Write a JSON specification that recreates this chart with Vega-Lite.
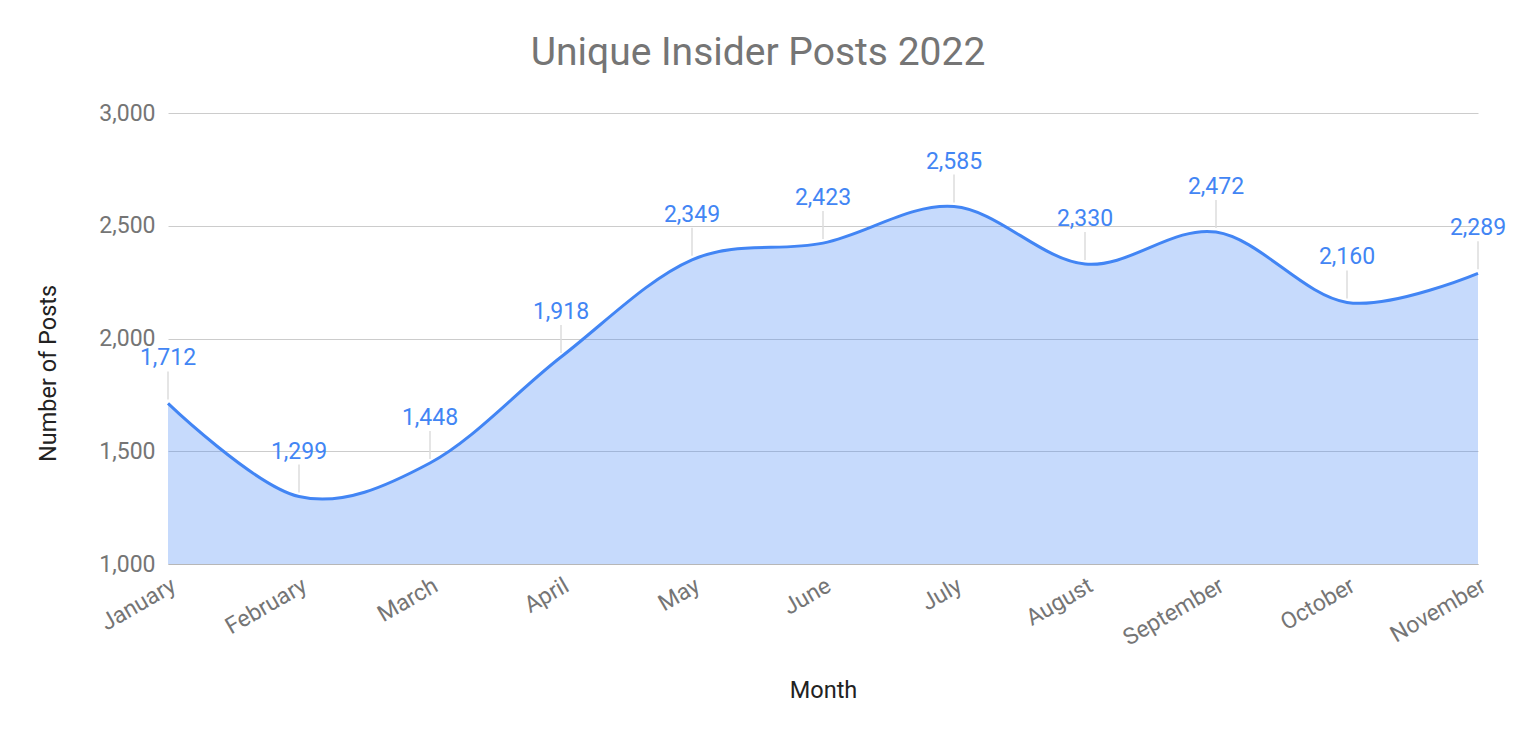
{
  "$schema": "https://vega.github.io/schema/vega-lite/v6.json",
  "autosize": "none",
  "width": 1310,
  "height": 451,
  "padding": {"left": 168, "top": 113, "right": 38, "bottom": 178},
  "background": "white",
  "config": {"font": "Roboto", "view": {"stroke": null}},
  "title": {"text": "Unique Insider Posts 2022", "fontSize": 39, "fontWeight": "normal", "color": "#757575", "font": "Roboto", "dx": -65, "offset": -2, "anchor": "middle", "baseline": "alphabetic"},
  "data": {"values": [
    {"Month": "January", "Posts": 1712},
    {"Month": "February", "Posts": 1299},
    {"Month": "March", "Posts": 1448},
    {"Month": "April", "Posts": 1918},
    {"Month": "May", "Posts": 2349},
    {"Month": "June", "Posts": 2423},
    {"Month": "July", "Posts": 2585},
    {"Month": "August", "Posts": 2330},
    {"Month": "September", "Posts": 2472},
    {"Month": "October", "Posts": 2160},
    {"Month": "November", "Posts": 2289}
  ]},
  "encoding": {
    "x": {"field": "Month", "type": "ordinal", "sort": null, "scale": {"type": "point", "padding": 0},
      "axis": {"title": "Month", "titleFontSize": 23.5, "titleFontWeight": "normal", "titleColor": "#222222", "titleFont": "Roboto", "titleY": 126, "titleBaseline": "middle",
        "labelAngle": -30, "labelAlign": "right", "labelBaseline": "top", "labelFontSize": 23, "labelColor": "#757575", "labelPadding": 10,
        "ticks": false, "domain": true, "domainColor": "#b7b7b7", "domainWidth": 1, "grid": false}},
    "y": {"field": "Posts", "type": "quantitative", "scale": {"domain": [1000, 3000], "zero": false},
      "axis": {"title": "Number of Posts", "titleFontSize": 23.5, "titleFontWeight": "normal", "titleColor": "#222222", "titleX": -120, "titleY": 260, "titleAngle": -90, "titleBaseline": "middle", "titleAlign": "center",
        "values": [1000, 1500, 2000, 2500, 3000], "format": ",.0f", "labelFontSize": 23, "labelColor": "#757575", "labelPadding": 13,
        "ticks": false, "domain": false, "grid": true, "gridColor": "#cccccc", "gridWidth": 1}}
  },
  "layer": [
    {"mark": {"type": "area", "interpolate": "cardinal", "tension": 0, "color": "#4285F4", "fillOpacity": 0.3, "line": {"color": "#4285F4", "strokeWidth": 3, "interpolate": "cardinal", "tension": 0}},
     "encoding": {"y2": {"datum": 1000}}},
    {"mark": {"type": "rule", "color": "#dddddd", "strokeWidth": 1.5, "yOffset": -32, "y2Offset": -4},
     "encoding": {"y2": {"field": "Posts"}}},
    {"mark": {"type": "text", "color": "#4285F4", "fontSize": 23, "dy": -45, "baseline": "middle", "align": "center"},
     "encoding": {"text": {"field": "Posts", "type": "quantitative", "format": ",.0f"}}}
  ]
}
